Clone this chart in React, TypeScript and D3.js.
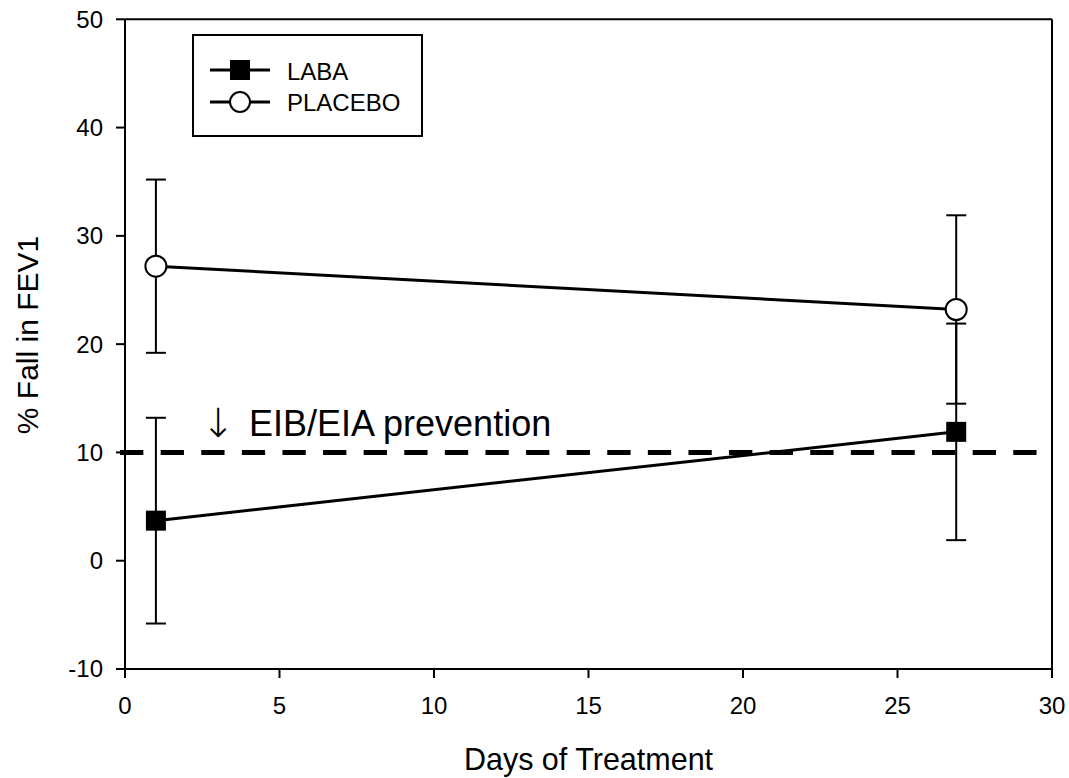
import React from "react";
import * as d3 from "d3";

const days = [1, 26.9];
const labaMean = [3.7, 11.9];
const labaErr = [9.5, 10.0];
const placeboMean = [27.2, 23.2];
const placeboErr = [8.0, 8.7];
const xTicks = [0, 5, 10, 15, 20, 25, 30];
const yTicks = [-10, 0, 10, 20, 30, 40, 50];
const thresholdValue = 10;
const thresholdExtent = [-0.16, 29.5];
const seriesNames = ["LABA", "PLACEBO"];
const annotationArrow = "\u2193";
const annotationText = "EIB/EIA prevention";
const xTitle = "Days of Treatment";
const yTitle = "% Fall in FEV1";

const W = 1069;
const H = 778;
const FONT = "'Liberation Sans', Arial, Helvetica, sans-serif";

export default function App() {
  const x = d3.scaleLinear().domain([0, 30]).range([125, 1052]);
  const y = d3.scaleLinear().domain([-10, 50]).range([669, 19.3]);
  const line = d3
    .line<number>()
    .x((_, i) => x(days[i]))
    .y((d) => y(d));

  const errBars = (means: number[], errs: number[], key: string) =>
    means.map((m, i) => {
      const cx = x(days[i]);
      const top = y(m + errs[i]);
      const bot = y(m - errs[i]);
      return (
        <g key={key + i} stroke="#000" strokeWidth={2}>
          <line x1={cx} x2={cx} y1={top} y2={bot} />
          <line x1={cx - 10} x2={cx + 10} y1={top} y2={top} />
          <line x1={cx - 10} x2={cx + 10} y1={bot} y2={bot} />
        </g>
      );
    });

  return (
    <svg
      width={W}
      height={H}
      style={{ position: "absolute", left: 0, top: 0, background: "#fff" }}
      fontFamily={FONT}
    >
      <rect x={0} y={0} width={W} height={H} fill="#fff" />
      {/* frame */}
      <g stroke="#000" strokeWidth={2} fill="none">
        <line x1={x(0)} x2={x(30)} y1={y(50)} y2={y(50)} />
        <line x1={x(30)} x2={x(30)} y1={y(50)} y2={y(-10)} />
        <line x1={x(0)} x2={x(0)} y1={y(50)} y2={y(-10)} />
        <line x1={x(0)} x2={x(30)} y1={y(-10)} y2={y(-10)} />
      </g>
      {/* y ticks */}
      {yTicks.map((t) => (
        <g key={"yt" + t}>
          <line x1={x(0) - 9} x2={x(0)} y1={y(t)} y2={y(t)} stroke="#000" strokeWidth={2} />
          <text x={103} y={y(t)} dy="0.35em" textAnchor="end" fontSize={24} fill="#000">
            {t}
          </text>
        </g>
      ))}
      {/* x ticks */}
      {xTicks.map((t) => (
        <g key={"xt" + t}>
          <line x1={x(t)} x2={x(t)} y1={y(-10)} y2={y(-10) + 9} stroke="#000" strokeWidth={2} />
          <text x={x(t)} y={714} textAnchor="middle" fontSize={24} fill="#000">
            {t}
          </text>
        </g>
      ))}
      {/* axis titles */}
      <text x={(x(0) + x(30)) / 2} y={770} textAnchor="middle" fontSize={30.5} fill="#000">
        {xTitle}
      </text>
      <text
        transform={`translate(38, 335) rotate(-90)`}
        textAnchor="middle"
        fontSize={30}
        fill="#000"
      >
        {yTitle}
      </text>
      {/* threshold */}
      <line
        x1={x(thresholdExtent[0])}
        x2={x(thresholdExtent[1])}
        y1={y(thresholdValue)}
        y2={y(thresholdValue)}
        stroke="#000"
        strokeWidth={5}
        strokeDasharray="23.3 17.3"
      />
      <text
        x={218}
        y={437}
        fontSize={40}
        textAnchor="middle"
        fontFamily="'DejaVu Sans', sans-serif"
        fontWeight={200}
        fill="#000"
      >
        {annotationArrow}
      </text>
      <text x={249} y={436} fontSize={36} fill="#000">
        {annotationText}
      </text>
      {/* error bars */}
      {errBars(placeboMean, placeboErr, "pe")}
      {errBars(labaMean, labaErr, "le")}
      {/* lines */}
      <path d={line(placeboMean) || ""} fill="none" stroke="#000" strokeWidth={3} />
      <path d={line(labaMean) || ""} fill="none" stroke="#000" strokeWidth={3} />
      {/* markers */}
      {placeboMean.map((m, i) => (
        <circle key={"pc" + i} cx={x(days[i])} cy={y(m)} r={10.5} fill="#fff" stroke="#000" strokeWidth={2} />
      ))}
      {labaMean.map((m, i) => (
        <rect key={"lr" + i} x={x(days[i]) - 10} y={y(m) - 10} width={20} height={20} fill="#000" />
      ))}
      {/* legend */}
      <rect x={193} y={35} width={229} height={101} fill="#fff" stroke="#000" strokeWidth={2} />
      <line x1={210} x2={270} y1={70} y2={70} stroke="#000" strokeWidth={3} />
      <rect x={230} y={60} width={20} height={20} fill="#000" />
      <text x={287} y={80} fontSize={24} fill="#000">
        {seriesNames[0]}
      </text>
      <line x1={210} x2={270} y1={102} y2={102} stroke="#000" strokeWidth={3} />
      <circle cx={240} cy={102} r={10} fill="#fff" stroke="#000" strokeWidth={2} />
      <text x={287} y={111} fontSize={24} fill="#000">
        {seriesNames[1]}
      </text>
    </svg>
  );
}
